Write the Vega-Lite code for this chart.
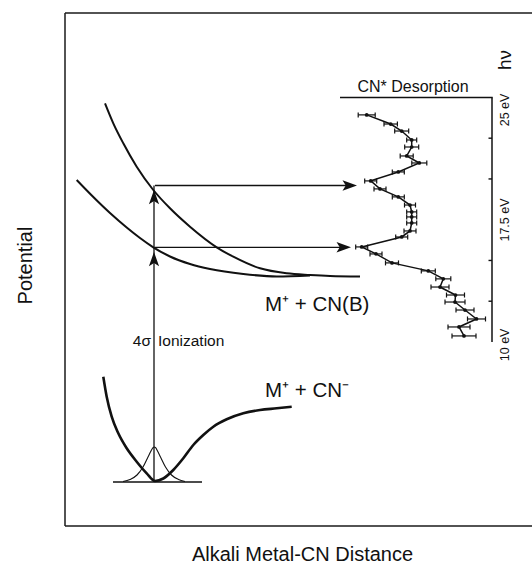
{
  "$schema": "https://vega.github.io/schema/vega-lite/v6.json",
  "width": 467,
  "height": 513,
  "autosize": {"type": "none"},
  "padding": {"left": 65, "top": 13, "right": 0, "bottom": 39},
  "config": {
    "font": "Liberation Sans",
    "view": {"stroke": null},
    "axis": {"grid": false, "ticks": false, "labels": false, "domain": false, "titleFontWeight": "normal", "titleFontSize": 20, "titleColor": "#111", "titleFont": "Liberation Sans"}
  },
  "layer": [
    {
      "data": {"values": [
        {"d": 38.3, "V": 149.3}, {"d": 41.7, "V": 129.3}, {"d": 46.7, "V": 109.3}, {"d": 53.3, "V": 92.7},
        {"d": 61.7, "V": 77.7}, {"d": 71.7, "V": 64.3}, {"d": 81.7, "V": 52.7}, {"d": 90, "V": 45},
        {"d": 98.3, "V": 47.5}, {"d": 108.3, "V": 56}, {"d": 118.3, "V": 67.7}, {"d": 128.3, "V": 81},
        {"d": 138.3, "V": 91}, {"d": 148.3, "V": 99.3}, {"d": 161.7, "V": 106.7}, {"d": 178.3, "V": 112.7},
        {"d": 195, "V": 116}, {"d": 211.7, "V": 117.7}, {"d": 226.7, "V": 119.3}
      ]},
      "mark": {"type": "line", "interpolate": "monotone", "color": "#111", "strokeWidth": 2.6},
      "encoding": {
        "x": {"field": "d", "type": "quantitative", "scale": {"domain": [0, 467], "nice": false, "zero": false}, "axis": null},
        "y": {"field": "V", "type": "quantitative", "scale": {"domain": [0, 513], "nice": false, "zero": false}, "axis": null}
      }
    },
    {
      "data": {"values": [
        {"state": "upper", "d": 40, "V": 422.7}, {"state": "upper", "d": 48.3, "V": 402.7}, {"state": "upper", "d": 58.3, "V": 382.7},
        {"state": "upper", "d": 71.7, "V": 359.3}, {"state": "upper", "d": 88.3, "V": 336}, {"state": "upper", "d": 105, "V": 317.7},
        {"state": "upper", "d": 125, "V": 299.3}, {"state": "upper", "d": 151.7, "V": 278.7}, {"state": "upper", "d": 168.3, "V": 269.3},
        {"state": "upper", "d": 195, "V": 257.7}, {"state": "upper", "d": 221.7, "V": 252.7}, {"state": "upper", "d": 245, "V": 251},
        {"state": "upper", "d": 265, "V": 250}, {"state": "upper", "d": 295, "V": 249.5},
        {"state": "lower", "d": 11.7, "V": 346}, {"state": "lower", "d": 28.3, "V": 329}, {"state": "lower", "d": 45, "V": 313},
        {"state": "lower", "d": 61.7, "V": 298.5}, {"state": "lower", "d": 75, "V": 288}, {"state": "lower", "d": 88.3, "V": 278.7},
        {"state": "lower", "d": 105, "V": 269.5}, {"state": "lower", "d": 125, "V": 262}, {"state": "lower", "d": 145, "V": 257},
        {"state": "lower", "d": 178.3, "V": 252}, {"state": "lower", "d": 211.7, "V": 249.5}, {"state": "lower", "d": 245, "V": 250.5}
      ]},
      "mark": {"type": "line", "interpolate": "monotone", "color": "#111", "strokeWidth": 2},
      "encoding": {
        "x": {"field": "d", "type": "quantitative", "scale": {"domain": [0, 467], "nice": false, "zero": false}, "axis": null},
        "y": {"field": "V", "type": "quantitative", "scale": {"domain": [0, 513], "nice": false, "zero": false}, "axis": null},
        "detail": {"field": "state"}
      }
    },
    {
      "data": {"values": [
        {"d": 58, "V": 44.5}, {"d": 65, "V": 46.5}, {"d": 72, "V": 51}, {"d": 78, "V": 59}, {"d": 83, "V": 69},
        {"d": 86, "V": 75}, {"d": 88, "V": 78.3}, {"d": 89.3, "V": 79}, {"d": 90.6, "V": 78.3}, {"d": 92.5, "V": 75}, {"d": 95.5, "V": 69}, {"d": 100.5, "V": 59},
        {"d": 106.5, "V": 51}, {"d": 113.5, "V": 46.5}, {"d": 120, "V": 44.5}
      ]},
      "mark": {"type": "line", "interpolate": "monotone", "color": "#111", "strokeWidth": 1.1},
      "encoding": {
        "x": {"field": "d", "type": "quantitative", "scale": {"domain": [0, 467], "nice": false, "zero": false}, "axis": null},
        "y": {"field": "V", "type": "quantitative", "scale": {"domain": [0, 513], "nice": false, "zero": false}, "axis": null}
      }
    },
    {
      "data": {"values": [
        {"d": 48, "d2": 137, "V": 44},
        {"d": 90, "d2": 285, "V": 340.5},
        {"d": 90, "d2": 280, "V": 278.7}
      ]},
      "mark": {"type": "rule", "color": "#111", "strokeWidth": 1.3},
      "encoding": {
        "x": {"field": "d", "type": "quantitative", "scale": {"domain": [0, 467], "nice": false, "zero": false}, "axis": null},
        "x2": {"field": "d2"},
        "y": {"field": "V", "type": "quantitative", "scale": {"domain": [0, 513], "nice": false, "zero": false}, "axis": null}
      }
    },
    {
      "data": {"values": [{"d": 89, "V": 44, "V2": 340.5}]},
      "mark": {"type": "rule", "color": "#111", "strokeWidth": 1.3},
      "encoding": {
        "x": {"field": "d", "type": "quantitative", "scale": {"domain": [0, 467], "nice": false, "zero": false}, "axis": null},
        "y": {"field": "V", "type": "quantitative", "scale": {"domain": [0, 513], "nice": false, "zero": false}, "axis": null},
        "y2": {"field": "V2"}
      }
    },
    {
      "data": {"values": [{"d": 89, "V": 336}, {"d": 89, "V": 274}]},
      "mark": {"type": "point", "shape": "M0,0L0.72,2L0,1.55L-0.72,2Z", "filled": true, "color": "#111", "opacity": 1, "size": 200, "strokeWidth": 0},
      "encoding": {
        "x": {"field": "d", "type": "quantitative", "scale": {"domain": [0, 467], "nice": false, "zero": false}, "axis": null},
        "y": {"field": "V", "type": "quantitative", "scale": {"domain": [0, 513], "nice": false, "zero": false}, "axis": null}
      }
    },
    {
      "data": {"values": [{"d": 292, "V": 340.5}, {"d": 286, "V": 278.7}]},
      "mark": {"type": "point", "shape": "M0,0L0.72,2L0,1.55L-0.72,2Z", "filled": true, "color": "#111", "opacity": 1, "size": 210, "angle": 90, "strokeWidth": 0},
      "encoding": {
        "x": {"field": "d", "type": "quantitative", "scale": {"domain": [0, 467], "nice": false, "zero": false}, "axis": null},
        "y": {"field": "V", "type": "quantitative", "scale": {"domain": [0, 513], "nice": false, "zero": false}, "axis": null}
      }
    },
    {
      "data": {"values": [
        {"d": 200, "V": 221, "label": "M⁺ + CN(B)"},
        {"d": 200, "V": 135, "label": "M⁺ + CN⁻"}
      ]},
      "mark": {"type": "text", "align": "left", "baseline": "middle", "fontSize": 20.5, "color": "#111"},
      "encoding": {
        "x": {"field": "d", "type": "quantitative", "scale": {"domain": [0, 467], "nice": false, "zero": false}, "axis": null},
        "y": {"field": "V", "type": "quantitative", "scale": {"domain": [0, 513], "nice": false, "zero": false}, "axis": null},
        "text": {"field": "label"}
      }
    },
    {
      "data": {"values": [{"d": 86, "V": 185, "label": "4σ"}]},
      "mark": {"type": "text", "align": "right", "baseline": "middle", "fontSize": 15.5, "color": "#111"},
      "encoding": {
        "x": {"field": "d", "type": "quantitative", "scale": {"domain": [0, 467], "nice": false, "zero": false}, "axis": null},
        "y": {"field": "V", "type": "quantitative", "scale": {"domain": [0, 513], "nice": false, "zero": false}, "axis": null},
        "text": {"field": "label"}
      }
    },
    {
      "data": {"values": [{"d": 93, "V": 185, "label": "Ionization"}]},
      "mark": {"type": "text", "align": "left", "baseline": "middle", "fontSize": 15.5, "color": "#111"},
      "encoding": {
        "x": {"field": "d", "type": "quantitative", "scale": {"domain": [0, 467], "nice": false, "zero": false}, "axis": null},
        "y": {"field": "V", "type": "quantitative", "scale": {"domain": [0, 513], "nice": false, "zero": false}, "axis": null},
        "text": {"field": "label"}
      }
    },
    {
      "data": {"name": "spectrum", "values": [
        {"e": 23.93, "xc": 301.7, "xlo": 293.2, "xhi": 310.2},
        {"e": 23.37, "xc": 325.7, "xlo": 319.0, "xhi": 332.4},
        {"e": 22.94, "xc": 336.7, "xlo": 329.7, "xhi": 343.7},
        {"e": 22.39, "xc": 346.7, "xlo": 341.7, "xhi": 351.7},
        {"e": 21.96, "xc": 346.7, "xlo": 339.7, "xhi": 353.7},
        {"e": 21.41, "xc": 341.7, "xlo": 335.2, "xhi": 348.2},
        {"e": 20.98, "xc": 354.3, "xlo": 346.8, "xhi": 361.8},
        {"e": 20.43, "xc": 333.3, "xlo": 327.3, "xhi": 339.3},
        {"e": 19.88, "xc": 305.7, "xlo": 299.7, "xhi": 311.7},
        {"e": 19.39, "xc": 315.0, "xlo": 309.0, "xhi": 321.0},
        {"e": 18.90, "xc": 333.3, "xlo": 327.3, "xhi": 339.3},
        {"e": 18.40, "xc": 345.0, "xlo": 339.5, "xhi": 350.5},
        {"e": 17.98, "xc": 346.7, "xlo": 341.7, "xhi": 351.7},
        {"e": 17.67, "xc": 346.7, "xlo": 341.7, "xhi": 351.7},
        {"e": 17.30, "xc": 346.7, "xlo": 341.7, "xhi": 351.7},
        {"e": 16.81, "xc": 345.0, "xlo": 339.0, "xhi": 351.0},
        {"e": 16.44, "xc": 336.7, "xlo": 330.7, "xhi": 342.7},
        {"e": 15.83, "xc": 296.7, "xlo": 290.7, "xhi": 302.7},
        {"e": 15.40, "xc": 311.0, "xlo": 305.0, "xhi": 317.0},
        {"e": 14.85, "xc": 327.0, "xlo": 320.5, "xhi": 333.5},
        {"e": 14.36, "xc": 363.3, "xlo": 356.3, "xhi": 370.3},
        {"e": 13.87, "xc": 378.3, "xlo": 370.8, "xhi": 385.8},
        {"e": 13.37, "xc": 375.0, "xlo": 366.0, "xhi": 384.0},
        {"e": 12.88, "xc": 390.5, "xlo": 381.5, "xhi": 399.5},
        {"e": 12.45, "xc": 390.0, "xlo": 380.0, "xhi": 400.0},
        {"e": 11.96, "xc": 400.0, "xlo": 391.0, "xhi": 409.0},
        {"e": 11.41, "xc": 411.5, "xlo": 402.5, "xhi": 420.5},
        {"e": 10.92, "xc": 394.0, "xlo": 383.0, "xhi": 405.0},
        {"e": 10.37, "xc": 399.0, "xlo": 387.0, "xhi": 411.0}
      ]},
      "mark": {"type": "line", "color": "#111", "strokeWidth": 1.5},
      "encoding": {
        "x": {"field": "xc", "type": "quantitative", "scale": {"domain": [0, 467], "nice": false, "zero": false}, "axis": null},
        "y": {"field": "e", "type": "quantitative", "scale": {"domain": [-1.29, 30.18], "nice": false, "zero": false}, "axis": null},
        "order": {"field": "e", "type": "quantitative", "sort": "descending"}
      }
    },
    {
      "data": {"name": "spectrum"},
      "mark": {"type": "rule", "color": "#111", "strokeWidth": 1.2},
      "encoding": {
        "x": {"field": "xlo", "type": "quantitative", "scale": {"domain": [0, 467], "nice": false, "zero": false}, "axis": null},
        "x2": {"field": "xhi"},
        "y": {"field": "e", "type": "quantitative", "scale": {"domain": [-1.29, 30.18], "nice": false, "zero": false}, "axis": null}
      }
    },
    {
      "data": {"name": "spectrum"},
      "mark": {"type": "tick", "orient": "vertical", "size": 5, "thickness": 1.2, "color": "#111", "opacity": 1},
      "encoding": {
        "x": {"field": "xlo", "type": "quantitative", "scale": {"domain": [0, 467], "nice": false, "zero": false}, "axis": null},
        "y": {"field": "e", "type": "quantitative", "scale": {"domain": [-1.29, 30.18], "nice": false, "zero": false}, "axis": null}
      }
    },
    {
      "data": {"name": "spectrum"},
      "mark": {"type": "tick", "orient": "vertical", "size": 5, "thickness": 1.2, "color": "#111", "opacity": 1},
      "encoding": {
        "x": {"field": "xhi", "type": "quantitative", "scale": {"domain": [0, 467], "nice": false, "zero": false}, "axis": null},
        "y": {"field": "e", "type": "quantitative", "scale": {"domain": [-1.29, 30.18], "nice": false, "zero": false}, "axis": null}
      }
    },
    {
      "data": {"name": "spectrum"},
      "mark": {"type": "circle", "color": "#111", "opacity": 1, "size": 14},
      "encoding": {
        "x": {"field": "xc", "type": "quantitative", "scale": {"domain": [0, 467], "nice": false, "zero": false}, "axis": null},
        "y": {"field": "e", "type": "quantitative", "scale": {"domain": [-1.29, 30.18], "nice": false, "zero": false}, "axis": null}
      }
    },
    {
      "data": {"values": [{"d": 427, "e": 10, "e2": 25}]},
      "mark": {"type": "rule", "color": "#111", "strokeWidth": 1.5},
      "encoding": {
        "x": {"field": "d", "type": "quantitative", "scale": {"domain": [0, 467], "nice": false, "zero": false}, "axis": null},
        "y": {"field": "e", "type": "quantitative", "scale": {"domain": [-1.29, 30.18], "nice": false, "zero": false}, "axis": null},
        "y2": {"field": "e2"}
      }
    },
    {
      "data": {"values": [
        {"d": 275, "d2": 427.7, "e": 25},
        {"d": 423.5, "d2": 427, "e": 22.5},
        {"d": 423.5, "d2": 427, "e": 20},
        {"d": 423.5, "d2": 427, "e": 15},
        {"d": 423.5, "d2": 427, "e": 12.5}
      ]},
      "mark": {"type": "rule", "color": "#111", "strokeWidth": 1.4},
      "encoding": {
        "x": {"field": "d", "type": "quantitative", "scale": {"domain": [0, 467], "nice": false, "zero": false}, "axis": null},
        "x2": {"field": "d2"},
        "y": {"field": "e", "type": "quantitative", "scale": {"domain": [-1.29, 30.18], "nice": false, "zero": false}, "axis": null}
      }
    },
    {
      "data": {"values": [
        {"d": 440, "e": 24.23, "label": "25 eV"},
        {"d": 440, "e": 17.48, "label": "17.5 eV"},
        {"d": 440, "e": 9.82, "label": "10 eV"}
      ]},
      "mark": {"type": "text", "angle": 270, "align": "center", "baseline": "middle", "fontSize": 12.5, "color": "#111"},
      "encoding": {
        "x": {"field": "d", "type": "quantitative", "scale": {"domain": [0, 467], "nice": false, "zero": false}, "axis": null},
        "y": {"field": "e", "type": "quantitative", "scale": {"domain": [-1.29, 30.18], "nice": false, "zero": false}, "axis": null},
        "text": {"field": "label"}
      }
    },
    {
      "data": {"values": [{"d": 348, "e": 25.64, "label": "CN* Desorption"}]},
      "mark": {"type": "text", "align": "center", "baseline": "middle", "fontSize": 16, "color": "#111"},
      "encoding": {
        "x": {"field": "d", "type": "quantitative", "scale": {"domain": [0, 467], "nice": false, "zero": false}, "axis": null},
        "y": {"field": "e", "type": "quantitative", "scale": {"domain": [-1.29, 30.18], "nice": false, "zero": false}, "axis": null},
        "text": {"field": "label"}
      }
    },
    {
      "data": {"values": [{"d": 440, "e": 27.3, "label": "hν"}]},
      "mark": {"type": "text", "angle": 270, "align": "center", "baseline": "middle", "fontSize": 19, "color": "#111"},
      "encoding": {
        "x": {"field": "d", "type": "quantitative", "scale": {"domain": [0, 467], "nice": false, "zero": false}, "axis": null},
        "y": {"field": "e", "type": "quantitative", "scale": {"domain": [-1.29, 30.18], "nice": false, "zero": false}, "axis": null},
        "text": {"field": "label"}
      }
    },
    {
      "data": {"values": [
        {"d": 0, "d2": 467, "V": 0, "V2": 0},
        {"d": 0, "d2": 467, "V": 513, "V2": 513},
        {"d": 0, "d2": 0, "V": 0, "V2": 513}
      ]},
      "mark": {"type": "rule", "color": "#1a1a1a", "strokeWidth": 1.5},
      "encoding": {
        "x": {"field": "d", "type": "quantitative", "scale": {"domain": [0, 467], "nice": false, "zero": false},
              "axis": {"orient": "bottom", "title": "Alkali Metal-CN Distance", "titlePadding": 18, "titleX": 237}},
        "x2": {"field": "d2"},
        "y": {"field": "V", "type": "quantitative", "scale": {"domain": [0, 513], "nice": false, "zero": false},
              "axis": {"orient": "left", "title": "Potential", "titleBaseline": "alphabetic", "titlePadding": 34, "titleY": 252}},
        "y2": {"field": "V2"}
      }
    }
  ],
  "resolve": {"scale": {"x": "independent", "y": "independent"}}
}
